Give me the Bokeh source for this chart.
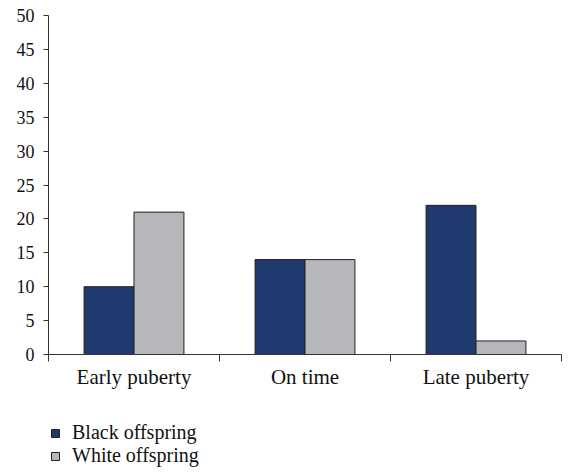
from bokeh.plotting import figure
from bokeh.layouts import column
from bokeh.models import Range1d, FixedTicker, Legend, LegendItem, ColumnDataSource
from bokeh.embed import file_html
from bokeh.resources import INLINE

categories = ["Early puberty", "On time", "Late puberty"]
black_offspring = [10, 14, 22]
white_offspring = [21, 14, 2]
series_names = ["Black offspring", "White offspring"]
y_ticks = list(range(0, 55, 5))

FONT = "Liberation Serif"
NAVY = "#1F3A6E"
GREY = "#B5B7BA"
EDGE = "#222222"

centers = [i + 0.5 for i in range(len(categories))]
bar_w = 0.292

p = figure(frame_width=513, frame_height=339, output_backend="svg", toolbar_location=None,
           x_range=Range1d(0, len(categories)), y_range=Range1d(0, 50),
           min_border_left=48, min_border_right=6, min_border_top=15, min_border_bottom=40)
p.grid.visible = False
p.outline_line_color = None

src_b = ColumnDataSource(dict(x=[c - bar_w / 2 for c in centers], top=black_offspring))
src_w = ColumnDataSource(dict(x=[c + bar_w / 2 for c in centers], top=white_offspring))
rb = p.vbar(x="x", top="top", bottom=0, width=bar_w, source=src_b,
            fill_color=NAVY, line_color=EDGE, line_width=1)
rw = p.vbar(x="x", top="top", bottom=0, width=bar_w, source=src_w,
            fill_color=GREY, line_color=EDGE, line_width=1)

xa = p.xaxis[0]
xa.ticker = FixedTicker(ticks=centers, minor_ticks=list(range(len(categories) + 1)))
xa.major_label_overrides = {c: name for c, name in zip(centers, categories)}
xa.major_tick_line_color = None
xa.minor_tick_in = 0
xa.minor_tick_out = 7
xa.minor_tick_line_color = "#333333"
xa.axis_line_color = "#333333"
xa.major_label_text_font = FONT
xa.major_label_text_font_size = "21px"
xa.major_label_text_color = "#111111"
xa.major_label_standoff = 3

ya = p.yaxis[0]
ya.ticker = FixedTicker(ticks=y_ticks)
ya.minor_tick_line_color = None
ya.major_tick_in = 0
ya.major_tick_out = 5
ya.major_tick_line_color = "#333333"
ya.axis_line_color = "#333333"
ya.major_label_text_font = FONT
ya.major_label_text_font_size = "18px"
ya.major_label_text_color = "#111111"
ya.major_label_standoff = 9

# legend panel beneath the chart (hidden copies of the series supply the swatches)
p2 = figure(width=567, height=75, output_backend="svg", toolbar_location=None,
            x_range=Range1d(0, 1), y_range=Range1d(0, 1),
            min_border_left=0, min_border_right=0, min_border_top=0, min_border_bottom=0)
p2.axis.visible = False
p2.grid.visible = False
p2.outline_line_color = None
lb = p2.vbar(x="x", top="top", bottom=0, width=bar_w, source=src_b,
             fill_color=NAVY, line_color=EDGE, line_width=1, visible=False)
lw = p2.vbar(x="x", top="top", bottom=0, width=bar_w, source=src_w,
             fill_color=GREY, line_color=EDGE, line_width=1, visible=False)

legend = Legend(items=[LegendItem(label=series_names[0], renderers=[lb]),
                       LegendItem(label=series_names[1], renderers=[lw])],
                location=(2, 2), orientation="vertical")
legend.label_text_font = FONT
legend.label_text_font_size = "20px"
legend.label_text_color = "#111111"
legend.glyph_width = 10
legend.glyph_height = 10
legend.label_standoff = 12
legend.spacing = 0
legend.padding = 0
legend.margin = 0
legend.border_line_color = None
legend.background_fill_alpha = 0
legend.inactive_fill_alpha = 0
legend.label_height = 20
p2.add_layout(legend, "center")

layout = column(p, p2, spacing=0)
open("out.html", "w").write(file_html(layout, INLINE))
